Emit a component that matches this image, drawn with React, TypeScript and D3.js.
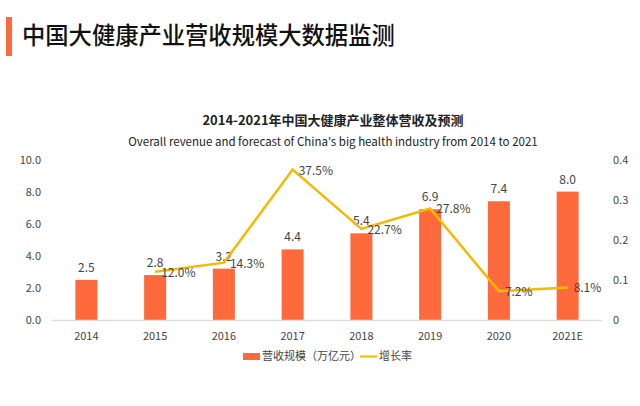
import React from "react";
import * as d3 from "d3";

const categories = ["2014", "2015", "2016", "2017", "2018", "2019", "2020", "2021E"];
const revenue = [2.5, 2.8, 3.2, 4.4, 5.4, 6.9, 7.4, 8.0];
const growth: (number | null)[] = [null, 0.12, 0.143, 0.375, 0.227, 0.278, 0.072, 0.081];
const growthLabels = ["", "12.0%", "14.3%", "37.5%", "22.7%", "27.8%", "7.2%", "8.1%"];
const leftTicks = [0, 2, 4, 6, 8, 10];
const rightTicks = [0, 0.1, 0.2, 0.3, 0.4];
const rightTickLabels = ["0", "0.1", "0.2", "0.3", "0.4"];

const FONT = "'Noto Sans CJK SC', 'Noto Sans', sans-serif";
const BAR = "#FF6A3C";
const LINE = "#F5BA00";
const TXT = "#444";

export default function App() {
  const W = 640, H = 406;
  const x = d3.scaleBand<string>().domain(categories).range([52, 602]).paddingInner(0).paddingOuter(0);
  const yL = d3.scaleLinear().domain([0, 10]).range([320, 159.5]);
  const yR = d3.scaleLinear().domain([0, 0.4]).range([320, 159.5]);
  const bw = 22;
  const cx = (c: string) => (x(c) as number) + x.bandwidth() / 2;

  const pts = categories
    .map((c, i) => ({ c, v: growth[i], l: growthLabels[i] }))
    .filter((d) => d.v !== null) as { c: string; v: number; l: string }[];
  const line = d3.line<{ c: string; v: number }>().x((d) => cx(d.c)).y((d) => yR(d.v));

  return (
    <svg width={W} height={H} style={{ position: "absolute", left: 0, top: 0, background: "#fff" }} fontFamily={FONT}>
      <rect x={0} y={0} width={W} height={H} fill="#fff" />
      <rect x={6} y={17} width={6} height={39} fill="#FF6A3C" />
      <text x={22} y={44} fontSize={23.3} fill="#111" fontWeight={500}>中国大健康产业营收规模大数据监测</text>

      <text x={333} y={125} fontSize={13} fontWeight={700} fill="#222" textAnchor="middle">2014-2021年中国大健康产业整体营收及预测</text>
      <text x={333} y={146} fontSize={11.5} fill="#222" textAnchor="middle">Overall revenue and forecast of China's big health industry from 2014 to 2021</text>

      {leftTicks.map((t) => (
        <text key={"l" + t} x={41} y={yL(t) + 4} fontSize={11} fill={TXT} textAnchor="end">{t.toFixed(1)}</text>
      ))}
      {rightTicks.map((t, i) => (
        <text key={"r" + t} x={613} y={yR(t) + 4} fontSize={11} fill={TXT}>{rightTickLabels[i]}</text>
      ))}

      {categories.map((c, i) => (
        <g key={c}>
          <rect x={cx(c) - bw / 2} y={yL(revenue[i])} width={bw} height={yL(0) - yL(revenue[i])} fill={BAR} />
          <text x={cx(c)} y={yL(revenue[i]) - 8} fontSize={12} fill={TXT} textAnchor="middle">{revenue[i].toFixed(1)}</text>
          <text x={cx(c)} y={340} fontSize={11} fill={TXT} textAnchor="middle">{c}</text>
        </g>
      ))}
      <line x1={52} x2={602} y1={320.5} y2={320.5} stroke="#ddd" strokeWidth={1.5} />

      <path d={line(pts) || ""} fill="none" stroke={LINE} strokeWidth={2.5} strokeLinejoin="miter" />
      {pts.map((d) => (
        <text key={"g" + d.c} x={cx(d.c) + 6} y={yR(d.v) + 5} fontSize={12} fill={TXT}>{d.l}</text>
      ))}

      <rect x={243} y={353} width={17} height={7} fill={BAR} />
      <text x={262} y={360} fontSize={11} fill={TXT}>营收规模（万亿元）</text>
      <line x1={360} x2={377} y1={356.5} y2={356.5} stroke={LINE} strokeWidth={2} />
      <text x={379} y={360} fontSize={11} fill={TXT}>增长率</text>
    </svg>
  );
}
